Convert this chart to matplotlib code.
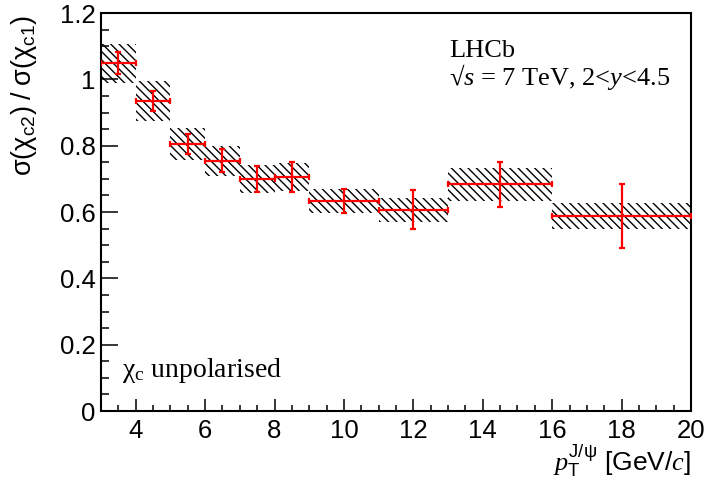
# ratio of chi_c2 to chi_c1 cross-sections versus J/psi transverse momentum
import matplotlib.pyplot as plt
import numpy as np

plt.rcParams['mathtext.fontset'] = 'custom'
plt.rcParams['mathtext.it'] = 'Liberation Serif:italic'
plt.rcParams['mathtext.rm'] = 'Liberation Serif'
plt.rcParams['hatch.linewidth'] = 1.0

# bins in pT [GeV/c]
bin_lo = [3, 4, 5, 6, 7, 8, 9, 11, 13, 16]
bin_hi = [4, 5, 6, 7, 8, 9, 11, 13, 16, 20]
# measured ratio, statistical and systematic uncertainties
ratio = [1.048, 0.934, 0.804, 0.755, 0.700, 0.706, 0.633, 0.607, 0.683, 0.588]
stat = [0.033, 0.030, 0.030, 0.035, 0.040, 0.045, 0.037, 0.058, 0.068, 0.097]
syst = [0.060, 0.060, 0.048, 0.045, 0.042, 0.042, 0.036, 0.036, 0.051, 0.039]

lo = np.array(bin_lo, dtype=float)
hi = np.array(bin_hi, dtype=float)
centres = 0.5 * (lo + hi)
halfw = 0.5 * (hi - lo)
ratio = np.array(ratio)
syst = np.array(syst)

fig = plt.figure(figsize=(7.09, 4.82), dpi=100)
ax = fig.add_axes([0.1425, 0.1473, 0.8321, 0.8257])

# systematic bands
ax.bar(centres, 2 * syst, bottom=ratio - syst, width=2 * halfw,
       fill=False, hatch='\\\\\\\\', edgecolor='black', linewidth=0, zorder=1)

# central values with statistical errors
ax.errorbar(centres, ratio, xerr=halfw, yerr=stat, fmt='none',
            ecolor='red', elinewidth=1.6, capsize=2.2, capthick=1.6, zorder=3)

ax.set_xlim(3, 20)
ax.set_ylim(0, 1.2)
ax.set_xticks(np.arange(4, 21, 2))
ax.set_xticks(np.arange(3, 20.01, 0.5), minor=True)
ax.set_yticks([0, 0.2, 0.4, 0.6, 0.8, 1.0, 1.2])
ax.set_yticklabels(['0', '0.2', '0.4', '0.6', '0.8', '1', '1.2'])
ax.set_yticks(np.arange(0, 1.201, 0.05), minor=True)

for lab in ax.get_xticklabels() + ax.get_yticklabels():
    lab.set_fontfamily('Liberation Sans')
    lab.set_fontsize(18.5)

ax.tick_params(axis='both', which='both', direction='in', width=1.1,
               top=False, right=False)
ax.tick_params(axis='y', which='major', length=12, pad=4)
ax.tick_params(axis='y', which='minor', length=6)
ax.tick_params(axis='x', which='major', length=8.5, pad=6)
ax.tick_params(axis='x', which='minor', length=4.3)
for sp in ax.spines.values():
    sp.set_linewidth(1.5)

ax.set_ylabel(r'$\mathregular{σ(χ_{c2})\ /\ σ(χ_{c1})}$', loc='top',
              fontfamily='Liberation Sans', fontsize=19.5)
ax.yaxis.set_label_coords(-0.105, 0.995)
ax.set_xlabel(r'$p_{\mathregular{T}}^{\mathregular{J/ψ}}$ [GeV/$c$]', loc='right',
              fontfamily='Liberation Sans', fontsize=19)
ax.xaxis.set_label_coords(1.0, -0.078)

ax.text(0.59, 0.89, 'LHCb', transform=ax.transAxes,
        fontfamily='Liberation Serif', fontsize=19)
ax.text(0.59, 0.82, '√$s$ = 7 TeV, 2<$y$<4.5', transform=ax.transAxes,
        fontfamily='Liberation Serif', fontsize=19)
ax.text(0.035, 0.085, r'$\mathregular{χ}_{\mathregular{c}}$ unpolarised',
        transform=ax.transAxes, fontfamily='Liberation Serif', fontsize=20)

fig.savefig('out.png', dpi=100)
